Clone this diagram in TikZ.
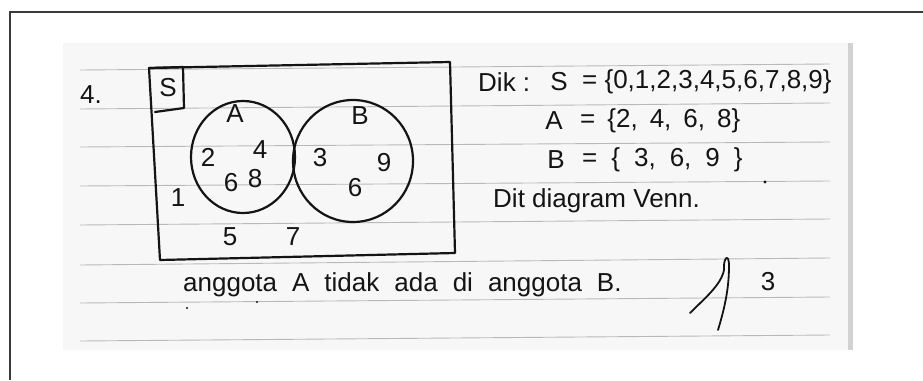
\documentclass[tikz,border=0pt]{standalone}
\usepackage{fontspec}
\setmainfont{Liberation Sans}
\definecolor{ink}{HTML}{141414}
\definecolor{paper}{HTML}{F7F7F7}
\definecolor{rule}{HTML}{B9B9B9}
\definecolor{frame}{HTML}{3A3A3A}
\newcommand{\hand}{\fontsize{26}{30}\selectfont}
\tikzset{
  hand/.style={font=\hand, text=ink, inner sep=0pt},
  inkline/.style={draw=ink, line width=2.2pt, line join=round, line cap=round},
  ruled/.style={draw=rule, line width=0.9pt}
}
\begin{document}
\begin{tikzpicture}[x=1pt,y=-1pt]
  \useasboundingbox (0,0) rectangle (923,380);
  \fill[white] (0,0) rectangle (923,380);
  % outer frame, open to the right and bottom
  \draw[frame, line width=1.6pt] (10,380) -- (10,12) -- (923,12);
  % the photographed page
  \fill[paper] (63,43) rectangle (850,350);
  \fill[gray!35] (848,43) rectangle (853,350);
  \foreach \l/\r in {70/64,109/103,147/142,186/181,225/219,265/258,303/297,341/335} {
    \draw[ruled] (80,\l) -- (830,\r);
  }
  % universe box and its label box
  \draw[inkline] (149,68) -- (450,62) -- (455,253) -- (160,260) -- cycle;
  \draw[inkline] (150,68) -- (183,67) -- (184,108) -- (155,112);
  % the two sets
  \draw[inkline] (243,157) ellipse [x radius=52, y radius=56];
  \draw[inkline] (353,161) ellipse [x radius=60, y radius=61];
  % number of the question
  \node[hand] (num) at (91,95) {4.};
  \node[hand] (lblS) at (168,88) {S};
  % members of A
  \node[hand] (lblA) at (235,114) {A};
  \node[hand] (a2) at (208,157) {2};
  \node[hand] (a4) at (260,150) {4};
  \node[hand] (a6) at (231,183) {6};
  \node[hand] (a8) at (255,179) {8};
  % members of B
  \node[hand] (lblB) at (360,116) {B};
  \node[hand] (b3) at (320,158) {3};
  \node[hand] (b9) at (384,163) {9};
  \node[hand] (b6) at (355,188) {6};
  % outside both
  \node[hand] (s1) at (178,198) {1};
  \node[hand] (s5) at (230,237) {5};
  \node[hand] (s7) at (293,237) {7};
  % what is given
  \node[hand, anchor=west] (dik) at (478,82) {Dik :};
  \node[hand] (setS) at (559,82) {S};
  \node[hand, anchor=west] (valS) at (582,82) {= \{0,1,2,3,4,5,6,7,8,9\}};
  \node[hand] (setA) at (554,121) {A};
  \node[hand, anchor=west] (valA) at (580,121) {\spaceskip=12pt = \{2, 4, 6, 8\}};
  \node[hand] (setB) at (556,160) {B};
  \node[hand, anchor=west] (valB) at (582,160) {\spaceskip=14pt = \{ 3, 6, 9 \}};
  \node[hand, anchor=west] (dit) at (493,201) {Dit diagram Venn.};
  \fill[ink] (765,182) circle (1.6);
  % conclusion
  \node[hand, anchor=west] (note) at (183,285)
    {\spaceskip=15pt anggota A tidak ada di anggota B.};
  \fill[ink] (187,308) circle (1.1);
  \fill[ink] (257,302) circle (1.1);
  % mark and score
  \draw[inkline, line width=1.8pt] (690,313) .. controls (705,298) and (721,285) .. (724,270)
    .. controls (723,258) and (729,252) .. (729,266)
    .. controls (729,290) and (724,310) .. (718,330);
  \node[hand] (score) at (768,282) {3};
\end{tikzpicture}
\end{document}
